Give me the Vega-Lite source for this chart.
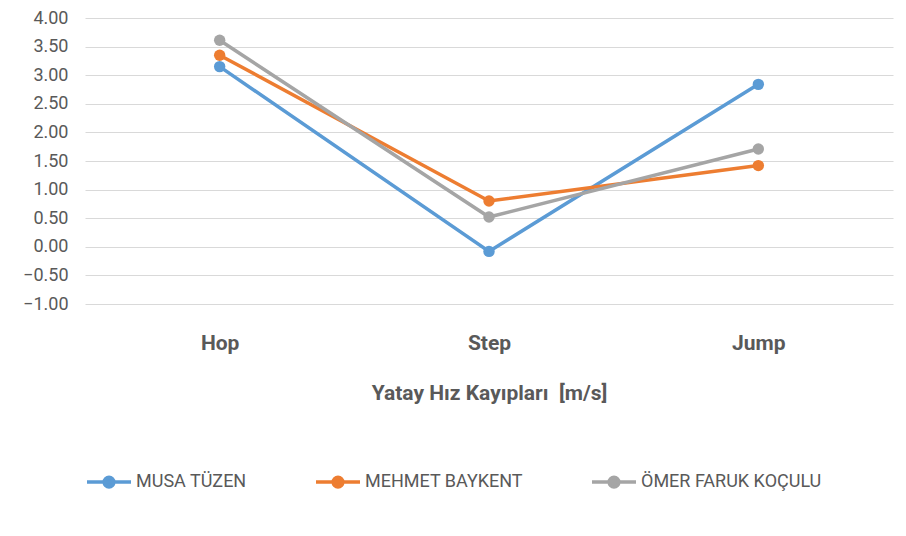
{
  "$schema": "https://vega.github.io/schema/vega-lite/v6.json",
  "autosize": "none",
  "width": 808,
  "height": 286,
  "padding": {"left": 85, "top": 18, "right": 13, "bottom": 232},
  "background": "white",
  "config": {
    "font": "Roboto, sans-serif",
    "view": {"stroke": null}
  },
  "data": {
    "values": [
      {"phase": "Hop", "athlete": "MUSA TÜZEN", "value": 3.15},
      {"phase": "Step", "athlete": "MUSA TÜZEN", "value": -0.08},
      {"phase": "Jump", "athlete": "MUSA TÜZEN", "value": 2.84},
      {"phase": "Hop", "athlete": "MEHMET BAYKENT", "value": 3.35},
      {"phase": "Step", "athlete": "MEHMET BAYKENT", "value": 0.80},
      {"phase": "Jump", "athlete": "MEHMET BAYKENT", "value": 1.42},
      {"phase": "Hop", "athlete": "ÖMER FARUK KOÇULU", "value": 3.61},
      {"phase": "Step", "athlete": "ÖMER FARUK KOÇULU", "value": 0.52},
      {"phase": "Jump", "athlete": "ÖMER FARUK KOÇULU", "value": 1.71}
    ]
  },
  "encoding": {
    "x": {
      "field": "phase",
      "type": "nominal",
      "sort": ["Hop", "Step", "Jump"],
      "scale": {"type": "point", "padding": 0.5},
      "axis": {
        "title": "Yatay Hız Kayıpları\u00a0 [m/s]",
        "titleFontSize": 21,
        "titleFontWeight": "bold",
        "titleColor": "#595959",
        "titlePadding": 29,
        "labelFontSize": 21,
        "labelFontWeight": "bold",
        "labelColor": "#595959",
        "labelPadding": 28,
        "labelAngle": 0,
        "ticks": false,
        "domain": false,
        "grid": false
      }
    },
    "y": {
      "field": "value",
      "type": "quantitative",
      "scale": {"domain": [-1, 4], "nice": false, "zero": false},
      "axis": {
        "title": null,
        "values": [-1, -0.5, 0, 0.5, 1, 1.5, 2, 2.5, 3, 3.5, 4],
        "format": ".2f",
        "labelFontSize": 18,
        "labelColor": "#595959",
        "labelPadding": 17,
        "ticks": false,
        "domain": false,
        "grid": true,
        "gridColor": "#D9D9D9",
        "gridWidth": 1
      }
    },
    "color": {
      "field": "athlete",
      "type": "nominal",
      "sort": ["MUSA TÜZEN", "MEHMET BAYKENT", "ÖMER FARUK KOÇULU"],
      "scale": {
        "domain": ["MUSA TÜZEN", "MEHMET BAYKENT", "ÖMER FARUK KOÇULU"],
        "range": ["#5B9BD5", "#ED7D31", "#A5A5A5"]
      },
      "legend": {
        "title": null,
        "orient": "bottom",
        "direction": "horizontal",
        "offset": 55,
        "symbolType": "M-1,0L1,0M-0.22,0a0.22,0.22 0 1,0 0.44,0a0.22,0.22 0 1,0 -0.44,0",
        "symbolSize": 1936,
        "symbolStrokeWidth": 3.5,
        "labelFontSize": 18,
        "labelColor": "#595959",
        "labelOffset": 3,
        "labelLimit": 0,
        "columnPadding": 62
      }
    }
  },
  "layer": [
    {"mark": {"type": "line", "strokeWidth": 3.5}},
    {"mark": {"type": "point", "filled": true, "size": 130, "opacity": 1}}
  ]
}
